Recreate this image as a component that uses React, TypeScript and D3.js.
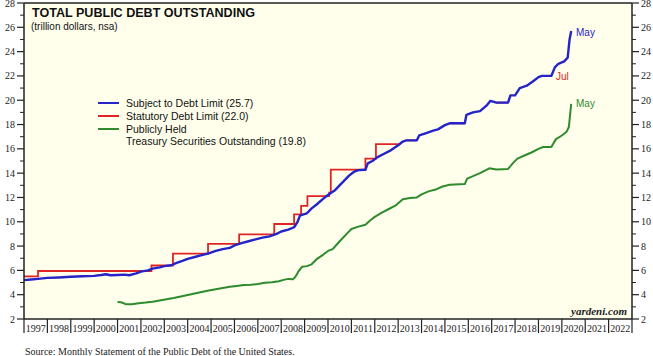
import React from "react";
import * as d3 from "d3";

const blueDates = [1997.0,1997.3,1997.6,1998.0,1998.5,1999.0,1999.5,2000.0,2000.3,2000.5,2000.7,2001.0,2001.3,2001.5,2001.8,2002.0,2002.3,2002.5,2002.8,2003.0,2003.3,2003.5,2003.8,2004.0,2004.3,2004.6,2004.9,2005.2,2005.5,2005.8,2006.0,2006.3,2006.6,2006.9,2007.2,2007.5,2007.8,2008.0,2008.3,2008.55,2008.7,2008.8,2008.95,2009.1,2009.3,2009.5,2009.8,2010.0,2010.15,2010.3,2010.6,2010.9,2011.1,2011.3,2011.6,2011.7,2011.9,2012.1,2012.4,2012.7,2013.0,2013.2,2013.35,2013.8,2013.9,2014.2,2014.5,2014.7,2015.0,2015.2,2015.85,2015.92,2016.2,2016.5,2016.8,2016.95,2017.2,2017.7,2017.8,2018.0,2018.2,2018.5,2018.8,2019.0,2019.15,2019.55,2019.7,2019.85,2020.1,2020.25,2020.33,2020.4];
const blueValues = [5.20,5.25,5.30,5.38,5.42,5.48,5.52,5.55,5.62,5.68,5.60,5.62,5.65,5.60,5.75,5.90,6.00,6.15,6.25,6.35,6.42,6.60,6.80,6.95,7.10,7.25,7.40,7.60,7.75,7.85,8.05,8.25,8.40,8.55,8.70,8.80,9.00,9.20,9.35,9.55,10.0,10.5,10.6,10.7,11.1,11.4,11.9,12.2,12.4,12.6,13.2,13.8,14.1,14.25,14.28,14.8,15.0,15.3,15.6,15.9,16.3,16.6,16.7,16.7,17.1,17.3,17.5,17.6,17.95,18.1,18.1,18.8,19.0,19.1,19.6,19.95,19.8,19.8,20.4,20.4,21.0,21.2,21.6,21.9,22.0,22.0,22.7,23.0,23.2,23.5,25.0,25.7];

const redDates = [1997.0,1997.6,2002.45,2003.37,2004.87,2006.2,2007.7,2008.55,2008.85,2009.12,2010.05,2010.12,2011.6,2012.05,2013.02,NaN,2013.35,2013.8,NaN,2015.2,2015.85,NaN,2017.2,2017.7,NaN,2019.15,2019.55];
const redValues = [5.5,5.95,6.4,7.384,8.184,8.965,9.815,10.615,11.315,12.104,12.394,14.294,15.194,16.394,16.394,NaN,16.7,16.7,NaN,18.1,18.1,NaN,19.8,19.8,NaN,22.0,22.0];

const greenDates = [2001.0,2001.15,2001.35,2001.6,2001.9,2002.2,2002.5,2002.8,2003.1,2003.4,2003.7,2004.0,2004.3,2004.6,2004.9,2005.2,2005.5,2005.8,2006.1,2006.4,2006.7,2007.0,2007.3,2007.6,2007.9,2008.1,2008.3,2008.5,2008.6,2008.75,2008.9,2009.1,2009.3,2009.5,2009.8,2010.0,2010.2,2010.5,2010.8,2011.0,2011.3,2011.6,2011.8,2012.0,2012.3,2012.6,2012.9,2013.2,2013.5,2013.8,2014.0,2014.3,2014.6,2014.9,2015.2,2015.85,2015.95,2016.2,2016.5,2016.9,2017.2,2017.7,2017.9,2018.1,2018.4,2018.7,2019.0,2019.2,2019.55,2019.75,2020.0,2020.2,2020.3,2020.4];
const greenValues = [3.40,3.38,3.22,3.22,3.30,3.35,3.42,3.52,3.62,3.72,3.85,3.98,4.10,4.22,4.35,4.45,4.55,4.65,4.72,4.80,4.82,4.88,4.98,5.02,5.10,5.22,5.30,5.28,5.45,5.95,6.30,6.35,6.50,6.90,7.30,7.60,7.75,8.40,9.00,9.40,9.60,9.75,10.10,10.40,10.75,11.05,11.35,11.85,11.95,12.00,12.25,12.50,12.65,12.90,13.05,13.10,13.55,13.75,14.00,14.40,14.30,14.35,14.80,15.20,15.45,15.70,16.00,16.15,16.15,16.80,17.10,17.40,17.80,19.70];

const yearLabels = ["1997","1998","1999","2000","2001","2002","2003","2004","2005","2006","2007","2008","2009","2010","2011","2012","2013","2014","2015","2016","2017","2018","2019","2020","2021","2022"];
const yMajorTicks = [2,4,6,8,10,12,14,16,18,20,22,24,26,28];
const yMinorTicks = [3,5,7,9,11,13,15,17,19,21,23,25,27];

const legendLabels = ["Subject to Debt Limit (25.7)", "Statutory Debt Limit (22.0)", "Publicly Held", "Treasury Securities Outstanding (19.8)"];

const BLUE = "#2424c8";
const RED = "#e02424";
const GREEN = "#2e8b2e";

export default function App() {
  const W = 653, H = 356;
  const left = 24, right = 632, top = 3, bottom = 319;
  const x = d3.scaleLinear().domain([1997, 2023]).range([left, right]);
  const y = d3.scaleLinear().domain([2, 28]).range([bottom, top]);

  type P = [number, number];
  const zip = (a: number[], b: number[]): P[] => a.map((d, i) => [d, b[i]]);
  const line = d3.line<P>().defined(d => !isNaN(d[0]) && !isNaN(d[1])).x(d => x(d[0])).y(d => y(d[1]));
  const stepLine = d3.line<P>().defined(d => !isNaN(d[0]) && !isNaN(d[1])).x(d => x(d[0])).y(d => y(d[1])).curve(d3.curveStepAfter);

  const serif = "'Liberation Serif', 'Times New Roman', serif";
  const sans = "'Liberation Sans', Arial, sans-serif";

  return (
    <svg width={W} height={H} style={{ position: "absolute", left: 0, top: 0, background: "#fff" }}>
      <rect x={left} y={top} width={right - left} height={bottom - top} fill="#ffffec" />
      {/* lines */}
      <path d={stepLine(zip(redDates, redValues)) || ""} fill="none" stroke={RED} strokeWidth={1.8} />
      <path d={line(zip(greenDates, greenValues)) || ""} fill="none" stroke={GREEN} strokeWidth={2} strokeLinejoin="round" />
      <path d={line(zip(blueDates, blueValues)) || ""} fill="none" stroke={BLUE} strokeWidth={2.4} strokeLinejoin="round" />

      {/* frame */}
      <line x1={left} x2={right} y1={top} y2={top} stroke="#222" strokeWidth={1.5} />
      <line x1={left} x2={left} y1={top} y2={bottom} stroke="#222" strokeWidth={1.5} />
      <line x1={right} x2={right} y1={top} y2={bottom} stroke="#222" strokeWidth={1.5} />
      <line x1={left} x2={right} y1={bottom} y2={bottom} stroke="#222" strokeWidth={1.5} />

      {/* y ticks */}
      {yMajorTicks.map(v => (
        <g key={"M" + v}>
          <line x1={left - 7} x2={left} y1={y(v)} y2={y(v)} stroke="#222" strokeWidth={1.2} />
          <line x1={right} x2={right + 7} y1={y(v)} y2={y(v)} stroke="#222" strokeWidth={1.2} />
          <text x={left - 9} y={y(v) + 3.5} textAnchor="end" fontFamily={serif} fontSize={10} fill="#222">{v}</text>
          <text x={right + 9} y={y(v) + 3.5} textAnchor="start" fontFamily={serif} fontSize={10} fill="#222">{v}</text>
        </g>
      ))}
      {yMinorTicks.map(v => (
        <g key={"m" + v}>
          <line x1={left - 4} x2={left} y1={y(v)} y2={y(v)} stroke="#222" strokeWidth={1} />
          <line x1={right} x2={right + 4} y1={y(v)} y2={y(v)} stroke="#222" strokeWidth={1} />
        </g>
      ))}

      {/* x ticks */}
      {d3.range(1997, 2024).map(yr => (
        <line key={"xt" + yr} x1={x(yr)} x2={x(yr)} y1={bottom} y2={bottom + 14} stroke="#222" strokeWidth={1.2} />
      ))}
      {yearLabels.map(lbl => (
        <text key={lbl} x={x(+lbl + 0.5)} y={bottom + 13} textAnchor="middle" fontFamily={serif} fontSize={10} fill="#222">{lbl}</text>
      ))}

      {/* titles */}
      <text x={32} y={17} fontFamily={sans} fontWeight="bold" fontSize={12.5} textLength={223} lengthAdjust="spacingAndGlyphs" fill="#111">TOTAL PUBLIC DEBT OUTSTANDING</text>
      <text x={31} y={30} fontFamily={sans} fontSize={10} fill="#111">(trillion dollars, nsa)</text>

      {/* legend */}
      {[BLUE, RED, GREEN].map((c, i) => (
        <line key={c} x1={98} x2={119} y1={103 + i * 13} y2={103 + i * 13} stroke={c} strokeWidth={2} />
      ))}
      {legendLabels.map((t, i) => (
        <text key={t} x={126} y={107 + i * 12.8} fontFamily={sans} fontSize={10.5} fill="#111">{t}</text>
      ))}

      {/* end labels */}
      <text x={576} y={36} fontFamily={sans} fontSize={10} fill={BLUE}>May</text>
      <text x={556} y={80} fontFamily={sans} fontSize={10} fill={RED}>Jul</text>
      <text x={576} y={107} fontFamily={sans} fontSize={10} fill={GREEN}>May</text>

      <text x={627} y={315} textAnchor="end" fontFamily={serif} fontWeight="bold" fontStyle="italic" fontSize={11} fill="#222">yardeni.com</text>
      <text x={25} y={355} fontFamily={serif} fontSize={10} fill="#222">Source: Monthly Statement of the Public Debt of the United States.</text>
    </svg>
  );
}
